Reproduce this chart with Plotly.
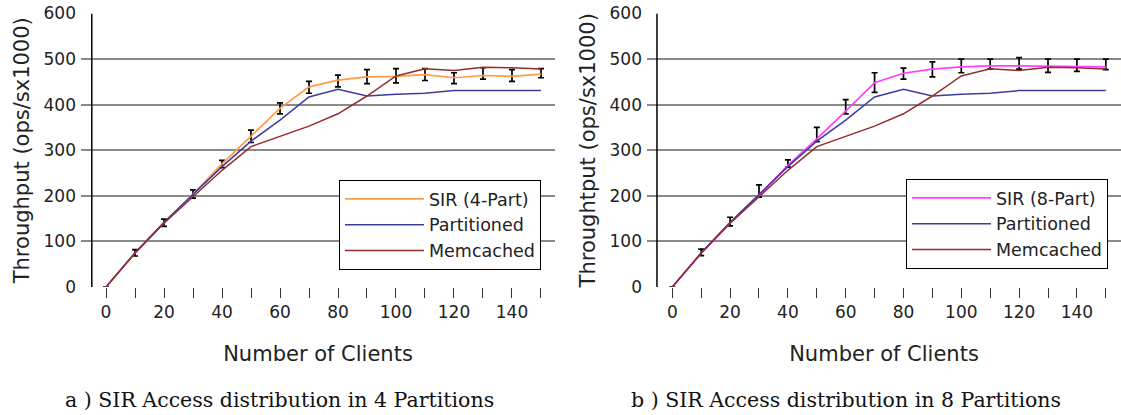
import plotly.graph_objects as go

# ---------------- data ----------------
clients = [0, 10, 20, 30, 40, 50, 60, 70, 80, 90, 100, 110, 120, 130, 140, 150]

sir4 = [0, 75, 141, 204, 270, 330, 392, 439, 454, 461, 462, 466, 459, 464, 462, 467]
sir4_err_up = [0, 7, 8, 9, 8, 14, 12, 12, 11, 16, 17, 13, 11, 17, 15, 12]
sir4_err_down = [0, 7, 8, 9, 8, 13, 12, 14, 15, 15, 14, 13, 13, 8, 11, 8]

sir8 = [0, 74, 140, 201, 267, 325, 386, 448, 469, 478, 483, 485, 485, 484, 483, 483]
sir8_err_up = [0, 9, 13, 23, 12, 25, 25, 22, 11, 16, 17, 15, 18, 16, 17, 17]
sir8_err_down = [0, 5, 6, 4, 4, 6, 6, 21, 13, 17, 13, 7, 7, 13, 10, 6]

partitioned = [0, 75, 142, 203, 264, 320, 366, 417, 434, 419, 423, 425, 431, 431, 431, 431]
memcached = [0, 74, 140, 199, 256, 308, 330, 353, 380, 419, 463, 479, 475, 482, 481, 478]

x_tick_vals = [0, 10, 20, 30, 40, 50, 60, 70, 80, 90, 100, 110, 120, 130, 140, 150]
x_tick_text = ["0", "", "20", "", "40", "", "60", "", "80", "", "100", "", "120", "", "140", ""]
y_tick_vals = [0, 100, 200, 300, 400, 500, 600]

panel_names = ["SIR (4-Part)", "SIR (8-Part)"]
y_titles = ["Throughput (ops/sx1000)", "Throughtput (ops/sx1000)"]
x_title = "Number of Clients"
captions = ["a ) SIR Access distribution in 4 Partitions", "b ) SIR Access distribution in 8 Partitions"]

# ---------------- styles ----------------
W, H = 1121, 415
SANS = "DejaVu Sans"
SERIF = "DejaVu Serif"
TXT = "#222222"
GRID = "#8a8a8a"
C_SIR = ["#ff9a45", "#ff40ff"]
C_PART = "#3c3ca0"
C_MEM = "#962d2d"

fig = go.Figure()

sir_vals = [sir4, sir8]
sir_up = [sir4_err_up, sir8_err_up]
sir_dn = [sir4_err_down, sir8_err_down]

for i in range(2):
    xa = "x" if i == 0 else "x2"
    ya = "y" if i == 0 else "y2"
    lg = "legend" if i == 0 else "legend2"
    fig.add_trace(go.Scatter(
        x=clients, y=sir_vals[i], mode="lines", name=panel_names[i],
        line=dict(color=C_SIR[i], width=1.7),
        error_y=dict(type="data", array=sir_up[i], arrayminus=sir_dn[i],
                     symmetric=False, color="#000000", thickness=1.7, width=3),
        xaxis=xa, yaxis=ya, legend=lg))
    fig.add_trace(go.Scatter(
        x=clients, y=partitioned, mode="lines", name="Partitioned",
        line=dict(color=C_PART, width=1.5), xaxis=xa, yaxis=ya, legend=lg))
    fig.add_trace(go.Scatter(
        x=clients, y=memcached, mode="lines", name="Memcached",
        line=dict(color=C_MEM, width=1.5), xaxis=xa, yaxis=ya, legend=lg))

# pixel geometry -> paper fractions
left_dom = [81 / W, 555 / W]
right_dom = [647 / W, 1.0]
y_dom = [(H - 287) / H, (H - 13.5) / H]

xcommon = dict(
    tickmode="array", tickvals=x_tick_vals, ticktext=x_tick_text,
    ticks="outside", ticklen=10, tickwidth=1, tickcolor="#333333",
    showgrid=False, zeroline=False, showline=False, automargin=False,
    tickfont=dict(family=SANS, size=17, color=TXT),
    title=dict(text=x_title, font=dict(family=SANS, size=21, color=TXT), standoff=24),
)
ycommon = dict(
    range=[0, 600], tickmode="array", tickvals=y_tick_vals,
    showgrid=True, gridcolor=GRID, gridwidth=1.5, automargin=False,
    zeroline=False, showline=False, ticks="", ticklabelstandoff=4,
    tickfont=dict(family=SANS, size=17, color=TXT),
)

legend_common = dict(xanchor="right", yanchor="top",
                     bordercolor="#000000", borderwidth=1, bgcolor="white",
                     itemwidth=79,
                     font=dict(family=SANS, size=17.5, color=TXT))

fig.update_layout(
    width=W, height=H,
    margin=dict(l=0, r=0, t=0, b=0, autoexpand=False),
    paper_bgcolor="white", plot_bgcolor="white",
    xaxis=dict(domain=left_dom, range=[-8.62, 154.83], anchor="y", **xcommon),
    xaxis2=dict(domain=right_dom, range=[-8.75, 155.26], anchor="y2", **xcommon),
    yaxis=dict(domain=y_dom, anchor="x",
               title=dict(text=y_titles[0], font=dict(family=SANS, size=21, color=TXT), standoff=8),
               **ycommon),
    yaxis2=dict(domain=y_dom, anchor="x2",
                title=dict(text=y_titles[1], font=dict(family=SANS, size=21, color=TXT), standoff=8),
                **ycommon),
    legend=dict(x=541 / W, y=(H - 180) / H, **legend_common),
    legend2=dict(x=1108 / W, y=(H - 179) / H, **legend_common),
    showlegend=True,
)

# vertical y-axis lines (slightly inside the gridline span, as in the original)
fig.add_shape(type="line", xref="x", yref="y", x0=-4.9, x1=-4.9, y0=0, y1=600,
              line=dict(color="#000000", width=1.5))
fig.add_shape(type="line", xref="x2", yref="y2", x0=-5.3, x1=-5.3, y0=0, y1=600,
              line=dict(color="#000000", width=1.5))

# captions
cap_x = [279.5 / W, 845.5 / W]
for i in range(2):
    fig.add_annotation(text=captions[i], xref="paper", yref="paper",
                       x=cap_x[i], y=(H - 400) / H, xanchor="center", yanchor="middle",
                       showarrow=False, font=dict(family=SERIF, size=20.5, color="#111111"))

fig.write_html("out.html")
